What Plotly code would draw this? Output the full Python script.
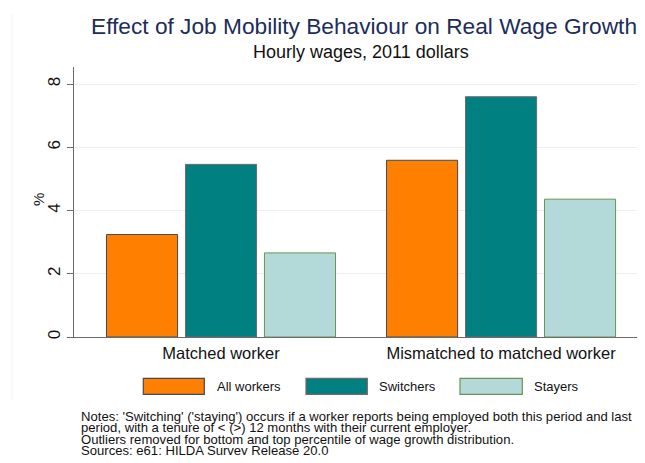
import plotly.graph_objects as go

# ---- data ----
categories = ["Matched worker", "Mismatched to matched worker"]
series_names = ["All workers", "Switchers", "Stayers"]
all_workers = [3.24, 5.59]
switchers = [5.46, 7.60]
stayers = [2.66, 4.36]
y_ticks = [0, 2, 4, 6, 8]
title_text = "Effect of Job Mobility Behaviour on Real Wage Growth"
subtitle_text = "Hourly wages, 2011 dollars"
y_title = "%"
notes = [
    "Notes: 'Switching' ('staying') occurs if a worker reports being employed both this period and last",
    "period, with a tenure of < (>) 12 months with their current employer.",
    "Outliers removed for bottom and top percentile of wage growth distribution.",
    "Sources: e61: HILDA Survey Release 20.0",
]

# ---- style / geometry (page pixels; the page body adds an 8px offset) ----
FONT = "Liberation Sans, Arial, Helvetica, sans-serif"
fills = ["#ff8000", "#008080", "#b3d9d9"]
edges = ["#3d4a60", "#76656c", "#6d9254"]
OFF = 8
W, H = 645 - OFF, 463 - 2 * OFF
PLOT_L, PLOT_R, PLOT_T, PLOT_B = 74, 645, 67, 337  # page px
L = PLOT_L - OFF
R = 645 - PLOT_R
T = PLOT_T - OFF
B = H - (PLOT_B - OFF)
PW, PH = W - L - R, H - T - B


def px(x):
    return (x - OFF - L) / PW


def py(y):
    return (PLOT_B - y) / PH


fig = go.Figure()
for name, vals, fc, ec in zip(series_names, [all_workers, switchers, stayers], fills, edges):
    fig.add_trace(go.Bar(
        x=categories, y=vals, name=name,
        marker=dict(color=fc, line=dict(color=ec, width=1)),
        showlegend=False, hoverinfo="skip",
    ))

# custom legend (large swatches)
legend_boxes = [(143.3, 204.3), (306, 367.3), (460, 522.3)]
legend_text_x = [215, 377, 531.5]
shapes = []
annotations = []
for (x0, x1), tx, name, fc, ec in zip(legend_boxes, legend_text_x, series_names, fills, edges):
    shapes.append(dict(type="rect", xref="paper", yref="paper",
                       x0=px(x0), x1=px(x1), y0=py(394.3), y1=py(378.3),
                       fillcolor=fc, line=dict(color=ec, width=1.2)))
    annotations.append(dict(text=name, xref="paper", yref="paper", x=px(tx), y=py(386.5),
                            xanchor="left", yanchor="middle", showarrow=False,
                            font=dict(family=FONT, size=13, color="#111111")))

# faint outer frame line
shapes.append(dict(type="line", xref="paper", yref="paper",
                   x0=px(12), x1=px(12), y0=py(14), y1=py(400),
                   line=dict(color="#eef1f3", width=1)))

annotations.append(dict(text=title_text, xref="paper", yref="paper", x=px(364), y=py(26),
                        xanchor="center", yanchor="middle", showarrow=False,
                        font=dict(family=FONT, size=22.7, color="#1c2d5a")))
annotations.append(dict(text=subtitle_text, xref="paper", yref="paper", x=px(360.5), y=py(52),
                        xanchor="center", yanchor="middle", showarrow=False,
                        font=dict(family=FONT, size=18, color="#111111")))
annotations.append(dict(text=y_title, xref="paper", yref="paper", x=px(38), y=py(200),
                        xanchor="center", yanchor="middle", showarrow=False, textangle=-90,
                        font=dict(family=FONT, size=15, color="#111111")))
note_y = [416.5, 427.8, 439.1, 450.4]
for line, ny in zip(notes, note_y):
    annotations.append(dict(text=line, xref="paper", yref="paper", x=px(79), y=py(ny),
                            xanchor="left", yanchor="middle", showarrow=False,
                            font=dict(family=FONT, size=13.1, color="#111111")))

fig.update_layout(
    width=W, height=H, autosize=False,
    margin=dict(l=L, r=R, t=T, b=B, pad=0),
    paper_bgcolor="white", plot_bgcolor="white",
    barmode="group", bargap=0.154, bargroupgap=0.1,
    font=dict(family=FONT, color="#111111"),
    shapes=shapes, annotations=annotations,
    showlegend=False,
)
fig.update_xaxes(
    type="category", range=[-0.525, 1.514],
    showline=True, linecolor="#6b6b6b", linewidth=1,
    showgrid=False, ticks="outside", ticklen=1, tickcolor="rgba(0,0,0,0)",
    tickfont=dict(family=FONT, size=16.5, color="#111111"),
    zeroline=False, fixedrange=True,
)
fig.update_yaxes(
    range=[0, 8.54], tickvals=y_ticks, ticktext=[str(v) for v in y_ticks],
    tickangle=-90, ticks="outside", ticklen=6, tickcolor="#6b6b6b",
    tickfont=dict(family=FONT, size=17, color="#111111"),
    showline=True, linecolor="#6b6b6b", linewidth=1,
    showgrid=True, gridcolor="#e8f0f2", gridwidth=1,
    zeroline=False, fixedrange=True,
)

fig.write_html("out.html")
